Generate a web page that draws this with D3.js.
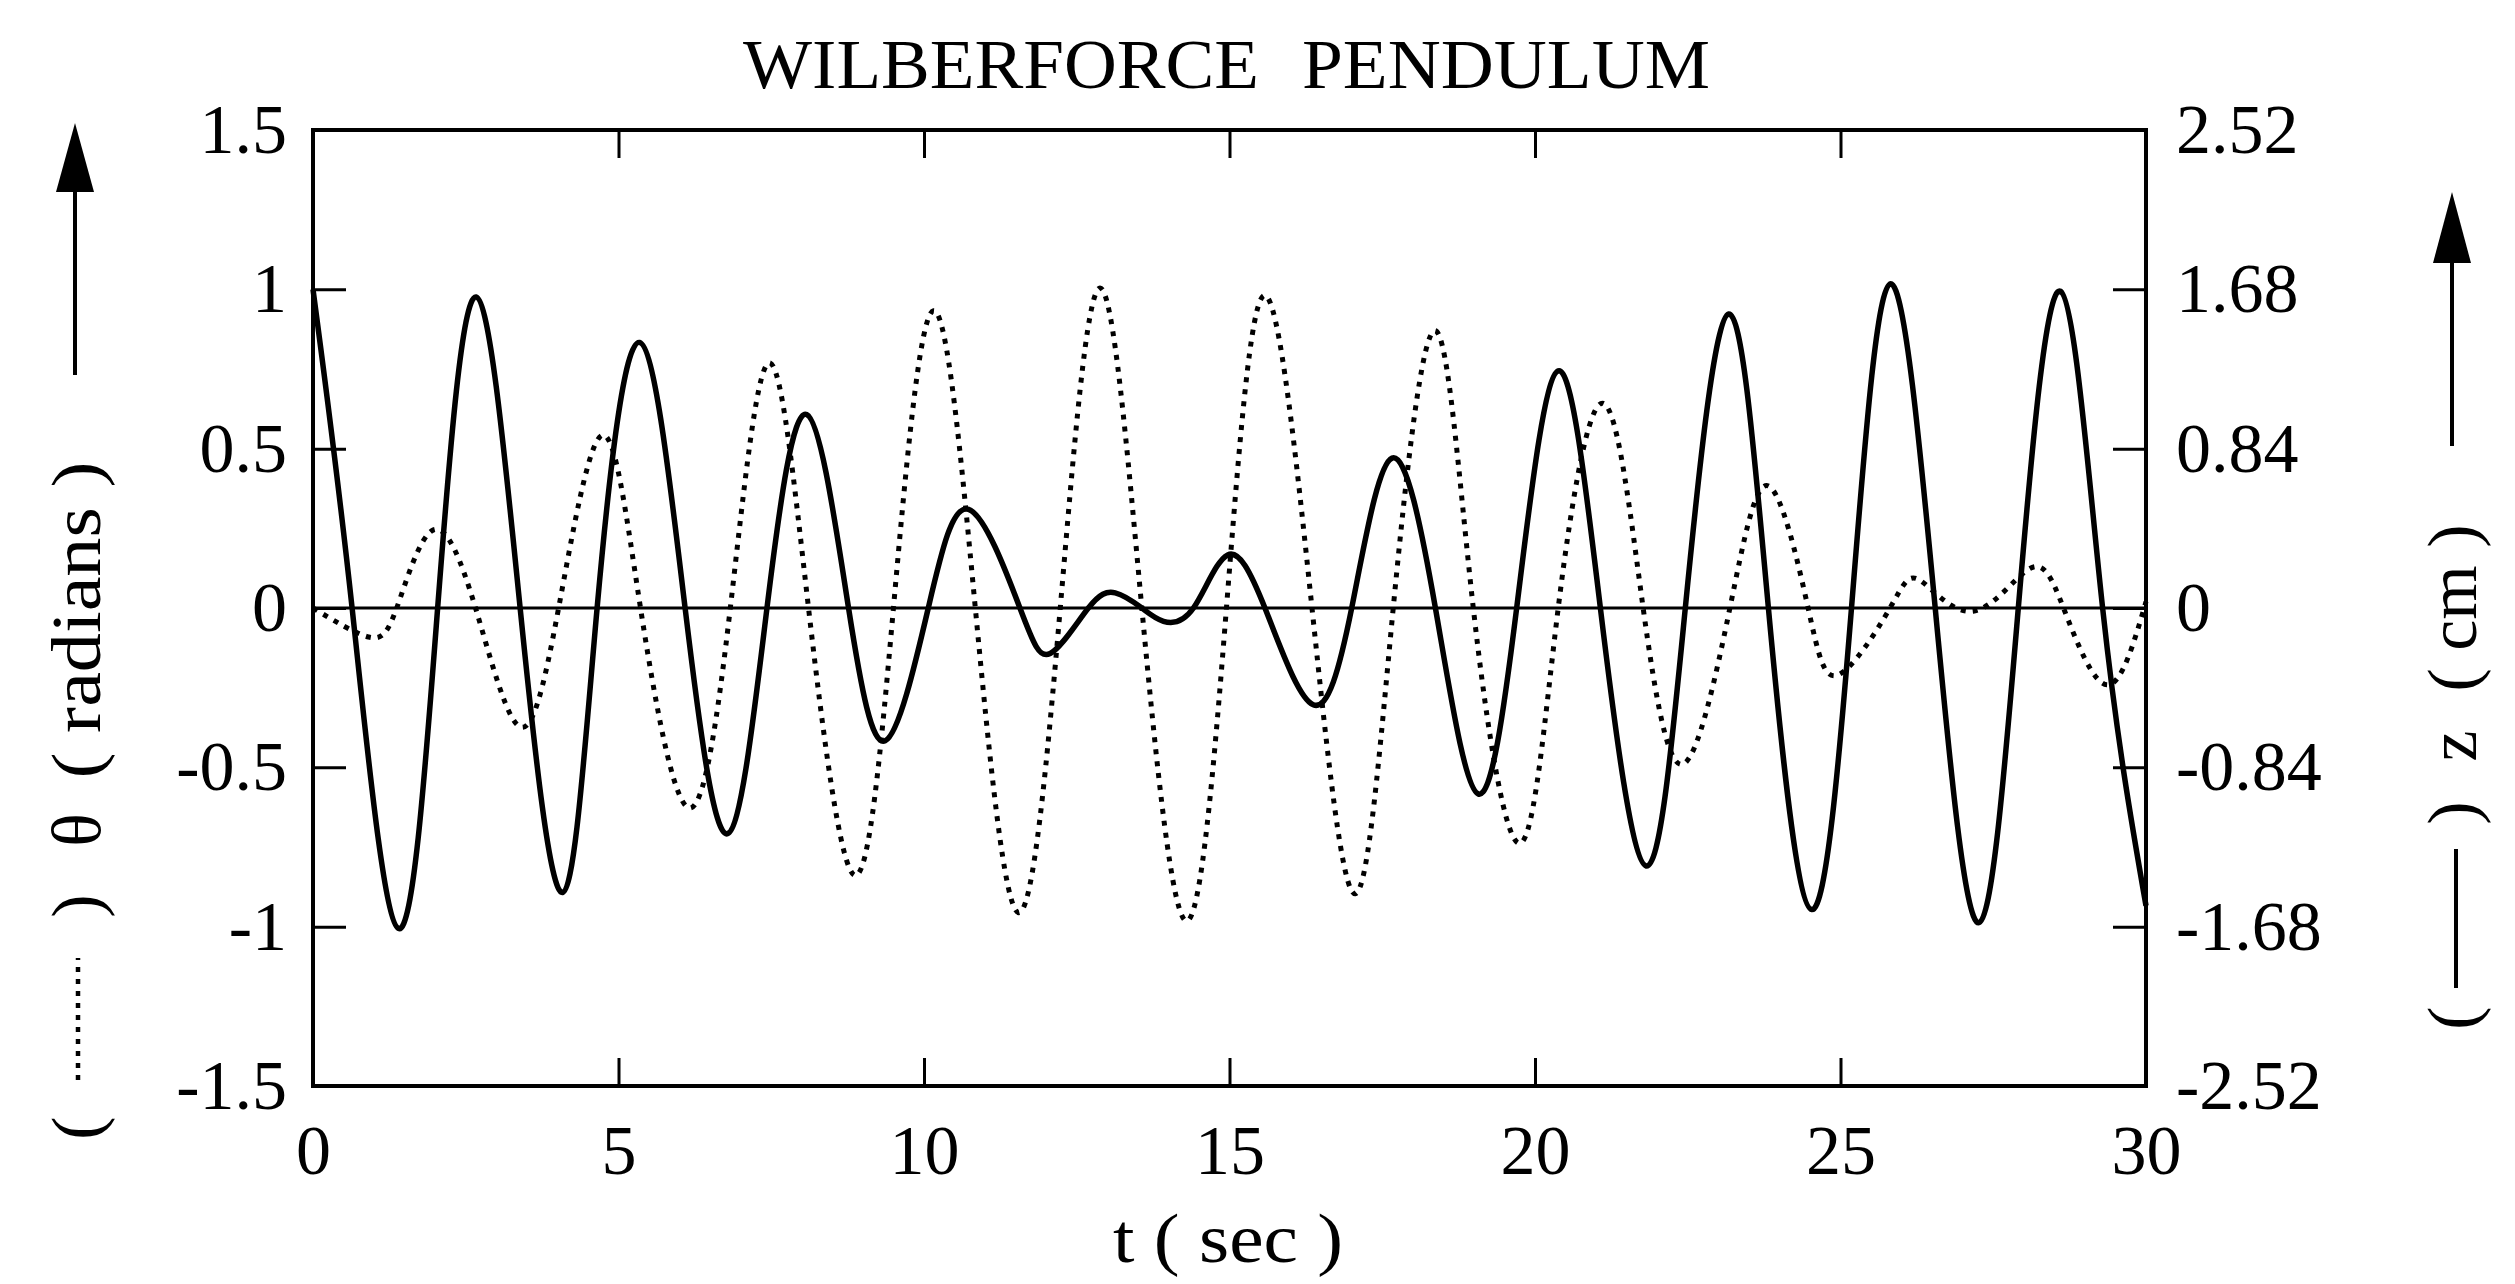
<!DOCTYPE html>
<html lang="en">

<head>
    <meta charset="UTF-8">
    <title>Wilberforce Pendulum</title>
    <script src="https://d3js.org/d3.v7.min.js"></script>
</head>
<style>
    body {
        margin: 0;
        background: #fff;
    }

    svg {
        display: block;
    }
</style>

<body>
    <svg width="2515" height="1284"></svg>
    <script>
        // tick values of the three axes
        var timeTicks = [0, 5, 10, 15, 20, 25, 30];
        var thetaTicks = [-1.5, -1, -0.5, 0, 0.5, 1, 1.5];
        var zTicks = [-2.52, -1.68, -0.84, 0, 0.84, 1.68, 2.52];

        // z (cm), solid line : turning points and zero crossings
        var zTime = [0, 0.64, 1.40, 2.04, 2.67, 3.39, 4.085, 4.65, 5.345, 6.09,
            6.785, 7.43, 8.08, 8.765, 9.365, 10.07, 10.73, 11.57, 12.065, 12.69,
            13.13, 13.565, 13.92, 14.41, 14.97, 15.58, 16.37, 17.0, 17.66, 18.37,
            19.07, 19.70, 20.38, 21.07, 21.82, 22.46, 23.17, 23.82, 24.53, 25.18,
            25.82, 26.55, 27.26, 27.91, 28.60, 29.29, 30];
        var zCm = [1.68, 0, -1.69, 0, 1.64, 0, -1.50, 0, 1.40, 0,
            -1.19, 0, 1.02, 0, -0.70, 0, 0.52, 0, -0.24, 0,
            0.08, 0, -0.07, 0, 0.28, 0, -0.51, 0, 0.79, 0,
            -0.98, 0, 1.25, 0, -1.36, 0, 1.55, 0, -1.59, 0,
            1.71, 0, -1.66, 0, 1.67, 0, -1.57];

        // theta (radians), dotted line
        var thetaTime = [0, 0.91, 1.37, 1.97, 2.66, 3.39, 4.02, 4.73, 5.36, 6.15,
            6.83, 7.46, 8.11, 8.87, 9.50, 10.155, 10.84, 11.55, 12.23, 12.88,
            13.565, 14.30, 14.95, 15.58, 16.35, 17.06, 17.68, 18.37, 18.99, 19.76,
            20.38, 21.12, 21.77, 22.42, 23.19, 23.82, 24.47, 24.96, 25.81, 26.30,
            27.17, 28.10, 28.65, 29.36, 30];
        var thetaRad = [0, -0.091, 0, 0.245, 0, -0.373, 0, 0.542, 0, -0.627,
            0, 0.769, 0, -0.839, 0, 0.933, 0, -0.956, 0, 1.004,
            0, -0.982, 0, 0.981, 0, -0.897, 0, 0.870, 0, -0.738,
            0, 0.642, 0, -0.49, 0, 0.383, 0, -0.21, 0, 0.087,
            -0.01, 0.124, 0, -0.241, 0.02];

        var svg = d3.select("svg"),
            plotLeft = 313,
            plotRight = 2146,
            plotTop = 130,
            plotBottom = 1086;
        var FONT = "'Liberation Serif', 'DejaVu Serif', serif";

        var x = d3.scaleLinear().domain([0, 30]).range([plotLeft, plotRight]);
        var yTheta = d3.scaleLinear().domain([-1.5, 1.5]).range([plotBottom, plotTop]);
        var yZ = d3.scaleLinear().domain([-2.52, 2.52]).range([plotBottom, plotTop]);

        function styleAxis(g) {
            g.select(".domain").remove();
            g.selectAll(".tick line").attr("stroke", "#000").attr("stroke-width", 3);
            g.selectAll(".tick text")
                .attr("font-family", FONT)
                .attr("font-size", 70)
                .attr("fill", "#000");
        }
        var plain = function (d) { return String(d); };

        // ticks point inwards on all four sides
        svg.append("g")
            .attr("transform", "translate(0," + plotBottom + ")")
            .call(d3.axisBottom(x).tickValues(timeTicks).tickSizeInner(-28).tickSizeOuter(0)
                .tickPadding(38).tickFormat(plain))
            .call(styleAxis);
        svg.append("g")
            .attr("transform", "translate(0," + plotTop + ")")
            .call(d3.axisTop(x).tickValues(timeTicks).tickSizeInner(-28).tickSizeOuter(0)
                .tickFormat(""))
            .call(styleAxis);
        svg.append("g")
            .attr("transform", "translate(" + plotLeft + ",0)")
            .call(d3.axisLeft(yTheta).tickValues(thetaTicks).tickSizeInner(-33).tickSizeOuter(0)
                .tickPadding(26).tickFormat(plain))
            .call(styleAxis);
        svg.append("g")
            .attr("transform", "translate(" + plotRight + ",0)")
            .call(d3.axisRight(yZ).tickValues(zTicks).tickSizeInner(-33).tickSizeOuter(0)
                .tickPadding(30).tickFormat(plain))
            .call(styleAxis);

        // frame
        svg.append("rect")
            .attr("x", plotLeft)
            .attr("y", plotTop)
            .attr("width", plotRight - plotLeft)
            .attr("height", plotBottom - plotTop)
            .style("fill", "none")
            .style("stroke", "#000")
            .style("stroke-width", 4);

        // zero line
        svg.append("line")
            .attr("x1", x(0))
            .attr("x2", x(30))
            .attr("y1", yTheta(0))
            .attr("y2", yTheta(0))
            .style("stroke", "#000")
            .style("stroke-width", 3);

        // theta, dotted
        var thetaData = thetaTime.map(function (t, i) { return { t: t, v: thetaRad[i] }; });
        svg.append("path")
            .datum(thetaData)
            .attr("d", d3.line()
                .x(function (d) { return x(d.t); })
                .y(function (d) { return yTheta(d.v); })
                .curve(d3.curveNatural))
            .style("fill", "none")
            .style("stroke", "#000")
            .style("stroke-width", 5)
            .style("stroke-dasharray", "5,7");

        // z, solid
        var zData = zTime.map(function (t, i) { return { t: t, v: zCm[i] }; });
        svg.append("path")
            .datum(zData)
            .attr("d", d3.line()
                .x(function (d) { return x(d.t); })
                .y(function (d) { return yZ(d.v); })
                .curve(d3.curveNatural))
            .style("fill", "none")
            .style("stroke", "#000")
            .style("stroke-width", 5.5);

        // title, two words
        svg.append("text")
            .attr("x", 743).attr("y", 88)
            .attr("textLength", 516).attr("lengthAdjust", "spacingAndGlyphs")
            .style("font-family", FONT).style("font-size", "70px")
            .text("WILBERFORCE");
        svg.append("text")
            .attr("x", 1302).attr("y", 88)
            .attr("textLength", 408).attr("lengthAdjust", "spacingAndGlyphs")
            .style("font-family", FONT).style("font-size", "70px")
            .text("PENDULUM");

        // x label
        svg.append("text")
            .attr("x", 1113).attr("y", 1262)
            .attr("textLength", 230).attr("lengthAdjust", "spacingAndGlyphs")
            .style("font-family", FONT).style("font-size", "70px")
            .text("t ( sec )");

        // rotated side labels, pieces centred at given page y
        function sideLabel(baseX, items) {
            var g = svg.append("g").attr("transform", "translate(" + baseX + ",0) rotate(-90)");
            items.forEach(function (d) {
                var t = g.append("text")
                    .attr("x", -d.y)
                    .attr("y", 0)
                    .attr("text-anchor", "middle")
                    .style("font-family", FONT)
                    .style("font-size", "70px")
                    .text(d.text);
                if (d.len) t.attr("textLength", d.len).attr("lengthAdjust", "spacingAndGlyphs");
            });
        }
        sideLabel(100, [
            { text: "(", y: 1128 },
            { text: ")", y: 906 },
            { text: "θ", y: 830 },
            { text: "( radians )", y: 620, len: 317 }
        ]);
        sideLabel(2476, [
            { text: "(", y: 1018 },
            { text: ")", y: 813 },
            { text: "z", y: 746 },
            { text: "( cm )", y: 608, len: 167 }
        ]);

        // line samples inside the brackets
        svg.append("line")
            .attr("x1", 78).attr("x2", 78).attr("y1", 1080).attr("y2", 958)
            .style("stroke", "#000").style("stroke-width", 4.5).style("stroke-dasharray", "5,7");
        svg.append("line")
            .attr("x1", 2456).attr("x2", 2456).attr("y1", 988).attr("y2", 849)
            .style("stroke", "#000").style("stroke-width", 4);

        // arrows
        function arrow(cx, tipY, headY, endY) {
            svg.append("line")
                .attr("x1", cx).attr("x2", cx).attr("y1", endY).attr("y2", headY)
                .style("stroke", "#000").style("stroke-width", 4);
            svg.append("path")
                .attr("d", "M" + cx + "," + tipY + "L" + (cx - 19) + "," + headY + "L" + (cx + 19) + "," + headY + "Z")
                .style("fill", "#000");
        }
        arrow(75, 123, 192, 375);
        arrow(2452, 192, 263, 446);
    </script>
</body>

</html>
